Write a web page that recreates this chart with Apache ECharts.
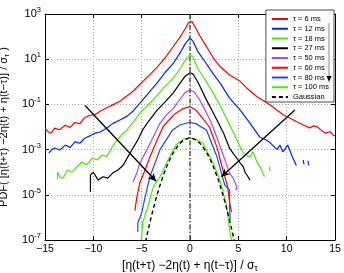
<!DOCTYPE html>
<html><head><meta charset="utf-8">
<script src="https://cdn.jsdelivr.net/npm/echarts@6/dist/echarts.min.js"></script>
<style>html,body{margin:0;padding:0;background:#fff}#c{width:344px;height:273px}</style>
</head><body><div id="c"></div>
<script>
// ---- data: [x, log10(PDF)] ----
const xTicks = [-15, -10, -5, 0, 5, 10, 15];
const yTickExponents = [-7, -5, -3, -1, 1, 3];
const legendNames = ['τ = 6 ms','τ = 12 ms','τ = 18 ms','τ = 27 ms','τ = 50 ms','τ = 60 ms','τ = 80 ms','τ = 100 ms','Gaussian'];
const tau6 = [[-15.0,-2.05],[-14.7,-2.2],[-14.4,-2.28],[-14.0,-2.05],[-13.5,-2.12],[-12.9,-1.92],[-12.4,-2.02],[-11.9,-1.8],[-11.4,-1.85],[-10.9,-1.58],[-10.3,-1.48],[-9.8,-1.45],[-9.3,-1.3],[-8.6,-1.15],[-8.0,-1.02],[-7.2,-0.85],[-6.5,-0.62],[-5.9,-0.42],[-5.2,-0.12],[-4.3,0.25],[-3.4,0.65],[-2.6,1.05],[-1.75,1.55],[-1.0,2.0],[-0.5,2.35],[-0.15,2.62],[0,2.7],[0.2,2.66],[0.5,2.45],[1.0,2.05],[1.5,1.7],[2.0,1.35],[2.5,1.0],[3.1,0.68],[4.1,0.3],[5.2,0.02],[5.8,-0.25],[6.9,-0.65],[8.3,-1.03],[9.6,-1.45],[10.3,-1.6],[11.1,-1.78],[11.8,-1.92],[12.4,-2.04],[12.8,-1.95],[13.2,-2.0],[13.6,-2.15],[14.0,-2.27],[14.5,-2.2],[14.8,-2.35],[15.0,-2.4]];
const tau12 = [[-14.6,-3.15],[-14.3,-3.0],[-14.0,-2.93],[-13.45,-3.02],[-12.9,-2.8],[-12.4,-2.9],[-11.9,-2.66],[-11.4,-2.72],[-10.9,-2.5],[-10.3,-2.38],[-9.8,-2.27],[-9.3,-2.22],[-8.6,-2.04],[-8.0,-1.85],[-7.2,-1.68],[-6.5,-1.52],[-5.9,-1.3],[-5.2,-0.95],[-4.3,-0.5],[-3.4,-0.05],[-2.6,0.4],[-1.75,0.8],[-1.0,1.3],[-0.5,1.68],[0,1.94],[0.3,1.8],[0.8,1.35],[1.7,0.8],[2.4,0.35],[3.1,-0.05],[4.1,-0.72],[5.2,-1.25],[6.2,-1.83],[7.2,-2.44],[7.8,-2.55],[8.3,-2.7],[9.0,-3.0],[9.3,-2.8],[9.6,-3.1],[10.1,-2.8],[10.6,-3.33],[11.0,-3.7],[11.4,'-'],[11.7,-3.45],[11.8,-3.65],[12.0,'-'],[12.2,-3.5],[12.3,-3.7]];
const tau18 = [[-13.7,-4.3],[-13.7,-4.0],[-13.4,-4.25],[-13.1,-4.25],[-12.7,-3.9],[-12.2,-4.0],[-11.7,-3.77],[-11.2,-3.55],[-10.7,-3.68],[-10.1,-3.37],[-9.6,-3.46],[-9.1,-3.24],[-8.6,-3.3],[-8.1,-2.93],[-7.6,-2.6],[-7.0,-2.3],[-6.5,-2.13],[-5.9,-1.8],[-5.2,-1.4],[-4.3,-1.0],[-3.4,-0.6],[-2.6,-0.2],[-1.75,0.15],[-1.0,0.6],[-0.5,0.95],[0,1.2],[0.3,1.1],[0.8,0.6],[1.7,0.0],[2.4,-0.5],[3.1,-1.05],[4.1,-1.9],[4.85,-2.58],[5.5,-3.15],[6.2,-3.33],[6.5,-3.1],[7.0,-3.6],[7.4,-3.9],[7.7,-4.2],[8.0,'-'],[8.2,-3.75],[8.3,-3.95]];
const tau27 = [[-10.3,-4.88],[-10.3,-4.12],[-10.0,-4.0],[-9.5,-4.35],[-9.0,-4.2],[-8.5,-4.26],[-8.0,-4.04],[-7.45,-3.9],[-6.9,-3.68],[-6.4,-3.3],[-5.9,-2.93],[-5.4,-2.58],[-4.9,-2.13],[-4.35,-1.78],[-3.4,-1.25],[-2.6,-0.9],[-1.75,-0.5],[-1.0,-0.05],[-0.5,0.25],[0,0.4],[0.3,0.35],[0.8,0.0],[1.7,-0.8],[2.8,-1.7],[3.5,-2.3],[4.1,-2.95],[4.6,-3.24],[5.2,-3.6],[5.5,-3.75],[5.7,-4.0],[6.0,-4.2],[6.2,-4.35]];
const tau50 = [[-5.9,-4.43],[-5.5,-4.04],[-5.2,-3.6],[-4.45,-3.0],[-3.8,-2.44],[-3.1,-1.83],[-2.4,-1.45],[-1.75,-1.2],[-1.0,-0.75],[-0.5,-0.48],[0,-0.36],[0.4,-0.45],[1.0,-0.8],[1.55,-1.25],[2.2,-1.8],[2.9,-2.6],[3.4,-3.2],[4.1,-4.04],[4.5,-4.3],[4.85,-4.65],[4.75,-4.8]];
const tau60 = [[-5.7,-5.7],[-5.5,-5.1],[-5.2,-4.48],[-4.65,-3.9],[-4.15,-3.33],[-3.4,-2.58],[-2.8,-2.0],[-2.2,-1.7],[-1.5,-1.4],[-0.8,-1.2],[0,-1.1],[0.6,-1.25],[1.2,-1.55],[2.0,-2.0],[2.8,-2.9],[3.4,-3.9],[3.9,-4.65],[4.1,-5.36],[4.3,-5.76]];
const tau80 = [[-5.4,-6.65],[-5.4,-6.25],[-5.0,-5.8],[-4.65,-5.1],[-4.15,-4.2],[-3.1,-3.0],[-1.8,-2.13],[-1.0,-1.9],[-0.1,-1.8],[0.6,-1.85],[1.7,-2.13],[2.8,-3.33],[3.6,-4.57],[4.1,-4.8],[4.1,-5.5],[4.15,-6.1]];
const tau100 = [[-5.05,-7.0],[-5.0,-6.9],[-4.9,-6.25],[-4.35,-5.5],[-3.8,-4.65],[-3.1,-4.2],[-2.45,-3.6],[-1.45,-2.8],[-0.7,-2.55],[0,-2.49],[0.6,-2.55],[1.3,-2.7],[2.4,-3.6],[3.1,-4.35],[3.8,-5.5],[4.1,-6.55],[4.3,-7.0]];
const gaussian = [[-4.6,-7.08],[-4.4,-6.69],[-4.2,-6.32],[-4.0,-5.96],[-3.8,-5.63],[-3.6,-5.30],[-3.4,-5.00],[-3.2,-4.71],[-3.0,-4.44],[-2.8,-4.19],[-2.6,-3.96],[-2.4,-3.74],[-2.2,-3.54],[-2.0,-3.36],[-1.8,-3.19],[-1.6,-3.05],[-1.4,-2.92],[-1.2,-2.80],[-1.0,-2.71],[-0.8,-2.63],[-0.6,-2.57],[-0.4,-2.52],[-0.2,-2.50],[0,-2.49],[0.2,-2.50],[0.4,-2.52],[0.6,-2.57],[0.8,-2.63],[1.0,-2.71],[1.2,-2.80],[1.4,-2.92],[1.6,-3.05],[1.8,-3.19],[2.0,-3.36],[2.2,-3.54],[2.4,-3.74],[2.6,-3.96],[2.8,-4.19],[3.0,-4.44],[3.2,-4.71],[3.4,-5.00],[3.6,-5.30],[3.8,-5.63],[4.0,-5.96],[4.2,-6.32],[4.4,-6.69],[4.6,-7.08]];
const zeroLine = [[0,-7],[0,3]];
const arrowLeft = [[-10.86,-1.05],[-3.5,-4.4]];
const arrowRight = [[10.85,-1.25],[3.25,-4.2]];
const colors = ['#ff0000','#0022ff','#44ee00','#000000','#b044ff','#ff0000','#2244ff','#44ee00','#000000'];

// y axis uses exponents shifted so that the axis min is a multiple of the interval
const SHIFT = 7;
const tr = a => a.map(p => [p[0], p[1] === '-' ? '-' : p[1] + SHIFT]);
const FONT = 'Liberation Sans';

const curves = [tau6, tau12, tau18, tau27, tau50, tau60, tau80, tau100];
const series = curves.map((d, i) => ({
  name: legendNames[i], type: 'line', data: tr(d), symbol: 'none', showSymbol: false,
  lineStyle: { color: colors[i], width: 1.2 }, itemStyle: { color: colors[i] },
  connectNulls: false, animation: false, z: 3
}));
series.push({
  name: 'Gaussian', type: 'line', data: tr(gaussian), symbol: 'none',
  lineStyle: { color: '#000', width: 1.4, type: [4, 3] }, itemStyle: { color: '#000' }, animation: false, z: 4
});
series.push({
  name: 'zero', type: 'line', data: tr(zeroLine), symbol: 'none',
  lineStyle: { color: '#555', width: 1.5, type: [5, 2, 1.5, 2] }, animation: false, z: 5, silent: true
});
series.push({
  name: 'arrows', type: 'line', data: [], symbol: 'none', animation: false, silent: true,
  markLine: {
    silent: true, symbol: ['none', 'arrow'], symbolSize: [6, 8], animation: false,
    label: { show: false }, lineStyle: { color: '#000', width: 1.3, type: 'solid' },
    data: [
      [{ coord: tr(arrowLeft)[0] }, { coord: tr(arrowLeft)[1] }],
      [{ coord: tr(arrowRight)[0] }, { coord: tr(arrowRight)[1] }]
    ]
  }
});

const sub = f => ({ fontSize: f, padding: [6, 0, 0, 0], fontFamily: FONT, color: '#000' });
const chart = echarts.init(document.getElementById('c'), null, { renderer: 'canvas' });
chart.setOption({
  animation: false,
  backgroundColor: '#fff',
  grid: { left: 45, right: 9, top: 14, bottom: 33, containLabel: false, outerBoundsMode: 'none' },
  legend: {
    data: legendNames, orient: 'vertical', right: 10, top: 10,
    padding: [5, 5, 1, 5], itemGap: 1.75, itemWidth: 16, itemHeight: 8,
    backgroundColor: '#fff', borderColor: '#222', borderWidth: 0.8, borderRadius: 0,
    textStyle: { fontSize: 7.5, fontFamily: FONT, color: '#000', lineHeight: 8 },
    itemStyle: { opacity: 0, borderWidth: 0 },
    lineStyle: { width: 2 }, z: 10
  },
  xAxis: [{
    type: 'value', min: -15, max: 15, interval: 5, position: 'bottom',
    name: '[η(t+τ) −2η(t) + η(t−τ)] / σ{s|τ}', nameLocation: 'middle', nameGap: 17,
    nameTextStyle: { fontSize: 12, fontFamily: FONT, color: '#000', rich: { s: sub(9) } },
    axisLine: { show: true, onZero: false, lineStyle: { color: '#000', width: 1 } },
    axisTick: { show: true, inside: true, length: 4, lineStyle: { color: '#000' } },
    axisLabel: { fontSize: 10.5, fontFamily: FONT, color: '#000', margin: 4,
      formatter: v => xTicks.includes(v) ? String(v).replace('-', '\u2212') : '' },
    splitLine: { show: true, lineStyle: { color: '#aaa', type: [1, 2], width: 1 } }
  }, {
    type: 'value', min: -15, max: 15, interval: 5, position: 'top',
    axisLine: { show: true, onZero: false, lineStyle: { color: '#000', width: 1 } },
    axisTick: { show: true, inside: true, length: 4, lineStyle: { color: '#000' } },
    axisLabel: { show: false }, splitLine: { show: false }
  }],
  yAxis: [{
    type: 'value', min: 0, max: 10, interval: 2, position: 'left',
    name: 'PDF( [η(t+τ) −2η(t) + η(t−τ)] / σ{s|τ} )', nameLocation: 'middle', nameGap: 31, nameRotate: 90,
    nameTextStyle: { fontSize: 11, fontFamily: FONT, color: '#000', rich: { s: sub(8) } },
    axisLine: { show: true, onZero: false, lineStyle: { color: '#000', width: 1 } },
    axisTick: { show: true, inside: true, length: 4, lineStyle: { color: '#000' } },
    axisLabel: { margin: 4, fontFamily: FONT, color: '#000',
      formatter: v => { const e = Math.round(v - SHIFT); return yTickExponents.includes(e) ? '{b|10}{e|' + e + '}' : ''; },
      rich: { b: { fontSize: 11, fontFamily: FONT, color: '#000' },
              e: { fontSize: 7.5, fontFamily: FONT, color: '#000', padding: [0, 0, 8, 0] } } },
    splitLine: { show: true, lineStyle: { color: '#aaa', type: [1, 2], width: 1 } }
  }, {
    type: 'value', min: 0, max: 10, interval: 2, position: 'right',
    axisLine: { show: true, onZero: false, lineStyle: { color: '#000', width: 1 } },
    axisTick: { show: true, inside: true, length: 4, lineStyle: { color: '#000' } },
    axisLabel: { show: false }, splitLine: { show: false }
  }],
  series: series,
  graphic: [
    { type: 'line', z: 100, shape: { x1: 329, y1: 23, x2: 329, y2: 78 }, style: { stroke: '#888', lineWidth: 1 } },
    { type: 'polygon', z: 100, shape: { points: [[326.5, 76], [331.5, 76], [329, 82]] }, style: { fill: '#000' } }
  ]
});
</script></body></html>
